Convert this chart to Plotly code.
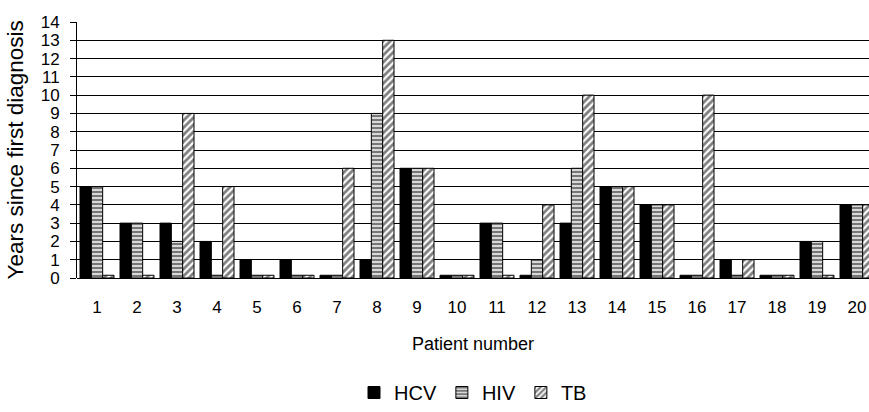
import plotly.graph_objects as go

patients = [str(i) for i in range(1, 21)]
hcv = [5, 3, 3, 2, 1, 1, 0.15, 1, 6, 0.15, 3, 0.15, 3, 5, 4, 0.15, 1, 0.15, 2, 4]
hiv = [5, 3, 2, 0.15, 0.15, 0.15, 0.15, 9, 6, 0.15, 3, 1, 6, 5, 4, 0.15, 0.15, 0.15, 2, 4]
tb = [0.15, 0.15, 9, 5, 0.15, 0.15, 6, 13, 6, 0.15, 0.15, 4, 10, 5, 4, 10, 1, 0.15, 0.15, 4]
y_ticks = list(range(0, 15))

font_family = "Liberation Sans, Arial, sans-serif"

fig = go.Figure()
fig.add_trace(go.Bar(
    x=patients, y=hcv, name="HCV",
    marker=dict(color="black", line=dict(color="black", width=1)),
))
fig.add_trace(go.Bar(
    x=patients, y=hiv, name="HIV",
    marker=dict(color="white", line=dict(color="black", width=1),
                pattern=dict(shape="-", fgcolor="black", bgcolor="#d8d8d8",
                             size=4, solidity=0.45, fillmode="overlay")),
))
fig.add_trace(go.Bar(
    x=patients, y=tb, name="TB",
    marker=dict(color="white", line=dict(color="black", width=1),
                pattern=dict(shape="/", fgcolor="black", bgcolor="white",
                             size=5, solidity=0.55, fillmode="overlay")),
))

fig.update_layout(
    width=869, height=412,
    margin=dict(l=77, r=0, t=22, b=130),
    paper_bgcolor="white", plot_bgcolor="white",
    barmode="group", bargap=0.15, bargroupgap=0,
    font=dict(family=font_family, color="black", size=17),
    showlegend=True,
    legend=dict(orientation="h", x=0.5, xanchor="center", y=-0.45, yanchor="middle",
                font=dict(size=20), itemwidth=30, tracegroupgap=0),
    xaxis=dict(
        type="category", range=[-0.5, 19.3], automargin=False,
        showgrid=False, showline=False, ticks="",
        ticklabelstandoff=17,
        tickfont=dict(size=17),
    ),
    yaxis=dict(
        range=[0, 14], tickvals=y_ticks, ticktext=[str(v) for v in y_ticks],
        automargin=False,
        showgrid=True, gridcolor="black", gridwidth=1,
        showline=True, linecolor="black", linewidth=1,
        ticks="outside", ticklen=6, tickcolor="black",
        ticklabelstandoff=7,
        tickfont=dict(size=17),
        zeroline=True, zerolinecolor="black", zerolinewidth=1,
    ),
    annotations=[
        dict(text="Years since first diagnosis", textangle=-90,
             xref="paper", yref="paper", x=-0.0972, y=0.5,
             xanchor="left", yanchor="middle", showarrow=False,
             font=dict(size=22.5)),
        dict(text="Patient number",
             xref="paper", yref="paper", x=0.5, y=-0.258,
             xanchor="center", yanchor="middle", showarrow=False,
             font=dict(size=18)),
    ],
)

# remove the browser's default 8px body margin so the figure fills the window exactly
fig.write_html("out.html", config={"displayModeBar": False},
               post_script="document.body.style.margin='0';")
